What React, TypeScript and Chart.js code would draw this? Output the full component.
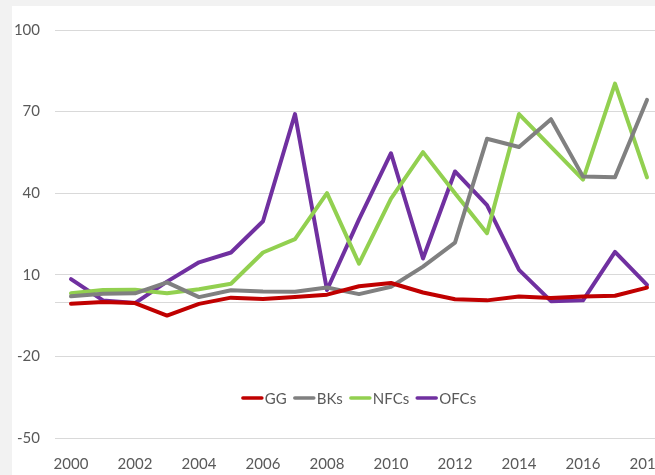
import React, { useEffect, useRef } from 'react';
import { Chart, registerables } from 'chart.js';

Chart.register(...registerables);

const years = ['2000', '2001', '2002', '2003', '2004', '2005', '2006', '2007', '2008', '2009', '2010', '2011', '2012', '2013', '2014', '2015', '2016', '2017', '2018'];

const seriesGG = [-0.6, 0, -0.4, -5, -0.7, 1.6, 1.1, 1.8, 2.7, 5.8, 7.0, 3.5, 1.0, 0.6, 2.0, 1.5, 2.0, 2.3, 5.3];
const seriesBKs = [2.1, 3.0, 3.2, 7.2, 1.8, 4.3, 3.9, 3.8, 5.3, 2.9, 5.6, 13, 21.8, 60, 57, 67.2, 46.1, 45.9, 74.3];
const seriesNFCs = [3.2, 4.4, 4.5, 3.2, 4.7, 6.7, 18.2, 23.1, 40, 14.1, 38, 55.1, 40, 25.3, 69.1, 57, 45, 80.3, 45.8];
const seriesOFCs = [8.4, 0.6, -0.4, 7.5, 14.6, 18.2, 29.7, 69.1, 4.4, 30.4, 54.7, 16, 48, 35.6, 11.8, 0.3, 0.6, 18.4, 6.3];

const yTickValues = [-50, -20, 0, 10, 40, 70, 100];
const yTickLabels = ['-50', '-20', '', '10', '40', '70', '100'];

const FONT = 'Lato, "Open Sans", sans-serif';
const TEXT_COLOR = '#595959';

const inlineLegend = {
  id: 'inlineLegend',
  afterDraw(chart: any) {
    const { ctx, chartArea } = chart;
    ctx.save();
    ctx.font = `15px ${FONT}`;
    const lineW = 21;
    const gap = 2;
    const spacing = 7;
    const items = chart.data.datasets.map((ds: any) => ({
      text: ds.label,
      color: ds.borderColor,
      w: ctx.measureText(ds.label).width,
    }));
    let total = 0;
    items.forEach((it: any, i: number) => {
      total += lineW + gap + it.w + (i > 0 ? spacing : 0);
    });
    let x = (chartArea.left + chartArea.right) / 2 - total / 2;
    const y = chartArea.bottom - 40;
    items.forEach((it: any) => {
      ctx.beginPath();
      ctx.strokeStyle = it.color;
      ctx.lineWidth = 3.5;
      ctx.lineCap = 'round';
      ctx.moveTo(x + 1, y);
      ctx.lineTo(x + lineW - 1, y);
      ctx.stroke();
      ctx.fillStyle = TEXT_COLOR;
      ctx.textBaseline = 'middle';
      ctx.textAlign = 'left';
      ctx.fillText(it.text, x + lineW + gap, y + 1);
      x += lineW + gap + it.w + spacing;
    });
    ctx.restore();
  },
};

export default function App() {
  const canvasRef = useRef<HTMLCanvasElement | null>(null);

  useEffect(() => {
    if (!canvasRef.current) return;
    const mk = (label: string, data: number[], color: string) => ({
      label,
      data,
      borderColor: color,
      backgroundColor: color,
      borderWidth: 4,
      pointRadius: 0,
      tension: 0,
      borderJoinStyle: 'round' as const,
      borderCapStyle: 'round' as const,
      fill: false,
    });
    const chart = new Chart(canvasRef.current, {
      type: 'line',
      data: {
        labels: years,
        datasets: [
          mk('GG', seriesGG, '#c00000'),
          mk('BKs', seriesBKs, '#808080'),
          mk('NFCs', seriesNFCs, '#92d050'),
          mk('OFCs', seriesOFCs, '#7030a0'),
        ],
      },
      options: {
        animation: false,
        responsive: false,
        maintainAspectRatio: false,
        layout: { padding: { left: 0, right: 43, top: 20, bottom: 3 } },
        plugins: {
          legend: { display: false },
          tooltip: { enabled: false },
        },
        scales: {
          x: {
            type: 'category',
            offset: true,
            grid: { display: false },
            border: { display: false },
            ticks: {
              autoSkip: false,
              maxRotation: 0,
              padding: 9,
              color: TEXT_COLOR,
              font: { family: FONT, size: 15 },
              callback: (_v: any, i: number) => (i % 2 === 0 ? years[i] : ''),
            },
            afterFit: (s: any) => {
              s.height = 40;
            },
          },
          y: {
            min: -50,
            max: 100,
            afterBuildTicks: (s: any) => {
              s.ticks = yTickValues.map((v) => ({ value: v }));
            },
            grid: { color: '#d9d9d9', lineWidth: 1, drawTicks: false },
            border: { display: false },
            ticks: {
              padding: 15,
              color: TEXT_COLOR,
              font: { family: FONT, size: 15 },
              callback: (v: any) => {
                const idx = yTickValues.indexOf(Number(v));
                return idx >= 0 ? yTickLabels[idx] : '';
              },
            },
            afterFit: (s: any) => {
              s.width = 43;
            },
          },
        },
      },
      plugins: [inlineLegend],
    });
    return () => chart.destroy();
  }, []);

  return (
    <div
      style={{
        position: 'fixed',
        left: 0,
        top: 0,
        width: 655,
        height: 475,
        background: '#f2f2f2',
        overflow: 'hidden',
      }}
    >
      <div style={{ position: 'absolute', left: 12, top: 6, width: 694, height: 475, background: '#ffffff' }}>
        <canvas ref={canvasRef} width={694} height={475} style={{ display: 'block' }} />
      </div>
    </div>
  );
}
